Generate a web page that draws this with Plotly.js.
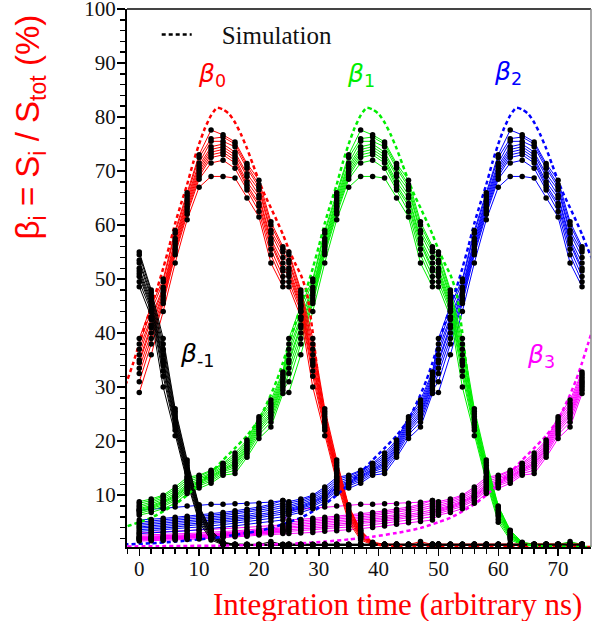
<!DOCTYPE html>
<html><head><meta charset="utf-8">
<script src="https://cdn.plot.ly/plotly-3.0.1.min.js"></script>
<style>html,body{margin:0;padding:0;background:#fff}#chart{width:593px;height:621px}</style>
</head><body><div id="chart"></div>
<script>
// Sampling: within each 25 ns bunch period the integration time is scanned at these offsets
const sampleOffsetsNs = [0,2,4,6,8,10,12,14,16,18,20,22,24];
const bunchPeriodNs = 25;
const periodIndex = [0,1,2]; // 0-24, 25-49, 50-74 ns

// Fraction (%) of signal from a bunch, per channel (10 channels), by position of the
// integration window relative to that bunch (3 periods before ... 3 periods after)
const pre3 = [
 [1.5,1.55,1.6,1.7,1.8,1.9,2.0,2.1,2.3,2.4,2.6,2.7,2.9],
 [1.7,1.75,1.8,1.9,2.0,2.1,2.2,2.3,2.5,2.6,2.8,2.9,3.1],
 [1.8,1.85,1.9,2.0,2.1,2.2,2.3,2.45,2.6,2.75,2.9,3.05,3.25],
 [1.9,1.95,2.0,2.1,2.2,2.3,2.4,2.55,2.7,2.85,3.0,3.15,3.35],
 [2.0,2.05,2.1,2.2,2.3,2.4,2.5,2.65,2.8,2.95,3.1,3.25,3.45],
 [2.1,2.15,2.2,2.3,2.4,2.5,2.6,2.75,2.9,3.05,3.2,3.4,3.6],
 [2.2,2.25,2.3,2.4,2.5,2.6,2.7,2.85,3.0,3.15,3.35,3.55,3.75],
 [2.35,2.4,2.45,2.55,2.65,2.75,2.85,3.0,3.15,3.3,3.5,3.7,3.95],
 [2.6,2.65,2.7,2.8,2.9,3.0,3.1,3.25,3.4,3.55,3.75,3.95,4.2],
 [3.0,3.1,3.2,3.3,3.4,3.5,3.6,3.75,3.9,4.05,4.2,4.35,4.5]
];
const pre2 = [
 [2.9,3.0,3.1,3.3,3.4,3.6,3.8,4.0,4.3,4.6,4.9,5.1,5.4],
 [3.3,3.4,3.6,3.8,3.9,4.1,4.3,4.5,4.8,5.1,5.4,5.7,6.0],
 [3.6,3.7,3.9,4.1,4.3,4.5,4.7,4.9,5.2,5.5,5.8,6.1,6.5],
 [3.9,4.0,4.2,4.4,4.6,4.8,5.0,5.2,5.5,5.8,6.1,6.5,6.9],
 [4.1,4.3,4.5,4.7,4.9,5.1,5.3,5.5,5.8,6.1,6.4,6.8,7.3],
 [4.4,4.6,4.8,5.0,5.2,5.4,5.6,5.8,6.1,6.4,6.8,7.2,7.7],
 [4.7,4.9,5.1,5.3,5.5,5.7,5.9,6.2,6.5,6.8,7.2,7.6,8.1],
 [5.0,5.2,5.4,5.6,5.8,6.0,6.2,6.5,6.8,7.1,7.5,8.0,8.5],
 [5.4,5.5,5.7,5.9,6.1,6.3,6.5,6.8,7.1,7.4,7.8,8.3,9.0],
 [7.2,7.4,7.6,7.8,8.0,8.2,8.3,8.3,8.4,8.4,8.5,8.7,9.0]
];
const pre1 = [
 [6.3,6.8,7.5,8.5,10.3,11.3,12.2,13.7,14.0,17.0,20.5,22.6,28.8],
 [6.6,7.2,7.9,9.0,10.7,11.7,12.6,14.0,14.6,17.5,21.2,23.5,29.4],
 [6.9,7.5,8.2,9.3,11.0,12.0,12.9,14.3,15.1,17.9,21.7,24.2,29.9],
 [7.1,7.7,8.5,9.6,11.3,12.2,13.2,14.5,15.5,18.3,22.1,24.7,30.3],
 [7.3,7.9,8.7,9.8,11.5,12.4,13.4,14.7,15.8,18.6,22.5,25.1,30.7],
 [7.5,8.1,8.9,10.0,11.8,12.6,13.6,14.9,16.1,18.9,22.9,25.5,31.1],
 [7.8,8.4,9.2,10.3,12.1,12.9,13.9,15.1,16.5,19.2,23.3,26.0,31.5],
 [8.1,8.7,9.5,10.7,12.5,13.2,14.1,15.4,16.9,19.5,23.7,26.5,31.9],
 [8.5,9.0,9.8,11.1,12.9,13.5,14.4,15.7,17.3,19.9,24.1,27.0,32.4],
 [8.8,9.3,10.0,11.5,13.3,13.7,14.6,15.9,17.8,20.2,24.5,27.6,32.8]
];
const inTime = [
 [29,36,44,53,61,67,69,69,68.7,65,61.5,53,48.6],
 [31,38,45.5,54.5,62,68.5,71.5,72,70.5,66.5,62.5,54.5,49.5],
 [32.5,39,46,55,62.5,69,72.5,73,71.5,67,63.5,55.5,50.5],
 [33.5,40,46.5,55.5,63,69.5,73,73.5,72,67.5,64,56.5,51.5],
 [34.5,41,47,56,63.5,70,73.5,74,72.5,68,65,57,52],
 [35,41.5,47.5,56.5,64,70.5,74,74.5,73,69,65.5,57.5,53],
 [36,42.5,48,57,64.5,71,74.5,75,73.5,69.5,66.5,58.5,54],
 [37,43,48.5,57.5,65,71.5,75.5,75.5,74.5,70.5,67,59,55],
 [38,44,49.5,58.5,65.5,72.5,76,76.3,75,71,67.5,60,55.5],
 [39,45,50,59,66,73,77.6,76.7,75.4,71.4,68.3,60.6,56]
];
const post1 = [
 [48.6,43,30,21,12.5,5,1.7,0.8,0.7,0.7,0.7,0.7,0.7],
 [49.5,44,32,22,13,5.5,2,0.9,0.75,0.7,0.75,0.7,0.7],
 [50.5,44.5,33,22.5,13.5,6,2.2,0.9,0.8,0.75,0.7,0.75,0.7],
 [51,45,34,23,14,6.3,2.4,1.0,0.8,0.8,0.75,0.8,0.75],
 [51.5,45.5,34.5,23.5,14.3,6.6,2.6,1.0,0.8,0.75,0.8,0.8,0.8],
 [52,46,35,24,14.6,6.9,2.8,1.0,0.85,0.8,0.8,0.85,0.8],
 [53,46.5,36,24.5,15,7.2,3.0,1.1,0.85,0.85,0.8,0.8,0.85],
 [53.5,47,37,25,15.5,7.5,3.2,1.1,0.9,0.85,0.85,0.9,0.8],
 [54.5,47.5,38,25.5,16,7.8,3.4,1.2,0.9,0.9,0.85,1.4,0.85],
 [55,48,39,26,16.5,8,3.5,1.3,0.9,0.9,0.9,0.9,0.9]
];
const post2 = [
 [0.7,0.7,0.75,0.7,0.7,0.7,0.75,0.7,0.7,0.7,0.7,0.75,0.7],
 [0.75,0.7,0.7,0.75,0.75,0.7,0.7,0.75,0.7,0.75,0.7,0.7,0.75],
 [0.75,0.75,0.8,0.75,0.7,0.75,0.8,0.75,0.75,0.7,0.75,0.8,0.75],
 [0.8,0.75,0.75,0.8,0.8,0.75,0.75,0.8,0.8,0.75,0.8,0.75,0.8],
 [0.8,0.8,0.8,0.75,0.8,0.8,0.8,0.75,0.8,0.8,0.75,0.8,0.8],
 [0.85,0.8,0.8,0.8,0.85,0.8,0.85,0.8,0.8,0.85,0.8,0.8,0.85],
 [0.85,0.85,0.8,0.85,0.8,0.85,0.8,0.85,0.85,0.8,0.85,0.85,0.8],
 [0.9,0.85,0.85,0.85,0.9,0.85,0.85,0.9,0.85,0.85,0.9,0.85,0.85],
 [0.9,0.9,0.85,0.9,0.85,0.9,0.9,0.85,0.9,0.9,0.85,0.9,0.9],
 [0.9,0.9,0.9,0.95,0.9,0.9,0.95,0.9,0.9,0.95,0.9,0.9,0.95]
];
const post3 = [
 [0.7,0.7,0.7,0.75,0.7,0.7,0.7,0.75,0.7,0.7,0.75,0.7,0.7],
 [0.75,0.7,0.75,0.7,0.75,0.7,0.75,0.7,0.75,0.7,0.7,0.75,0.7],
 [0.75,0.8,0.75,0.75,0.8,0.75,0.75,0.8,0.75,0.75,0.8,0.75,0.75],
 [0.8,0.75,0.8,0.8,0.75,0.8,0.8,0.75,0.8,0.8,0.75,0.8,0.8],
 [0.8,0.8,0.75,0.8,0.8,0.8,0.75,0.8,0.8,0.75,0.8,0.8,0.8],
 [0.85,0.8,0.85,0.8,0.8,0.85,0.8,0.8,0.85,0.8,0.85,0.8,0.8],
 [0.85,0.85,0.85,0.8,0.85,0.85,0.85,0.8,0.85,0.85,0.8,0.85,0.85],
 [0.9,0.85,0.85,0.9,0.85,0.85,0.9,0.85,0.85,0.9,0.85,0.9,0.85],
 [0.9,0.9,0.9,0.85,0.9,0.9,0.85,0.9,0.9,0.85,0.9,0.9,0.9],
 [0.95,0.9,0.9,0.9,0.95,0.9,0.9,0.95,0.9,0.9,0.95,0.9,0.9]
];
const relativeBlocks = [pre3, pre2, pre1, inTime, post1, post2, post3]; // index = periods relative to bunch + 3

// Simulation: fraction (%) vs integration-window offset from the bunch (ns)
const simOffsetNs = [-77,-72,-67,-62,-57,-52,-48,-44,-40,-36,-32,-28,-25,-23,-21,-19,-17,-15,-13,-11,-9,-7,-5,-4,-3,-2,-1,0,
 1,2,3,4,5,6,7,8,9,10,11,12,13,14,15,16,17,18,19,20,21,22,23,24,25,26,27,28,29,30,31,32,33,34,35,36,37,38,39,40,42,45,50,55,60,65,70,76];
const simPercent = [0.5,0.55,0.6,0.65,0.75,0.9,1.1,1.4,1.8,2.3,3.0,3.9,5.0,5.8,7.0,8.3,10.0,12.0,14.2,16.5,18.7,21.0,24.0,26.2,28.6,31.3,34.5,38.0,
 41.5,45,48.3,52,56,60.3,64,67.5,71.5,75,78,80.3,81.7,81.4,80.6,79,76.8,74.2,71.2,68.2,65.5,63.2,60.8,58.3,55.5,53,50.8,47.5,40,31,
 24,19,15,11,7.8,5.3,3.3,2,1.2,0.8,0.55,0.45,0.4,0.4,0.4,0.4,0.4,0.4];

// Families: beta_k = signal from bunch k (k = -1 ... 3)
const bunchIndex = [-1, 0, 1, 2, 3];
const familyLabels = ['β<sub>-1</sub>','β<sub>0</sub>','β<sub>1</sub>','β<sub>2</sub>','β<sub>3</sub>'];
const labelTime = [9.7, 12.1, 37.0, 61.7, 67.2];
const labelValue = [35.9, 87.8, 87.8, 88.1, 35.7];
const familyHasSim = [false, true, true, true, true];
const yTickValues = [10,20,30,40,50,60,70,80,90,100];
const yTickLabels = ['10','20','30','40','50','60','70','80','90','100'];

// styles
const familyColors = ['#000000','#ff0000','#00ee00','#0000ff','#ff00ff'];
const drawOrder = [4,3,2,1,0];

function buildCurve(k, ch) {
  const xs = [], ys = [];
  for (let r = -3; r <= 3; r++) {
    const p = r + k;
    if (!periodIndex.includes(p)) continue;
    const blk = relativeBlocks[r + 3][ch];
    for (let j = 0; j < sampleOffsetsNs.length; j++) {
      xs.push(p * bunchPeriodNs + sampleOffsetsNs[j]);
      ys.push(blk[j]);
    }
  }
  return {xs, ys};
}

const traces = [];
const markerTraces = [];
drawOrder.forEach(fi => {
  const k = bunchIndex[fi];
  const mx = [], my = [];
  for (let ch = 0; ch < inTime.length; ch++) {
    const c = buildCurve(k, ch);
    traces.push({x: c.xs, y: c.ys, type: 'scatter', mode: 'lines',
      line: {color: familyColors[fi], width: 1}, showlegend: false, hoverinfo: 'skip'});
    mx.push(...c.xs); my.push(...c.ys);
  }
  markerTraces.push({x: mx, y: my, type: 'scatter', mode: 'markers',
    marker: {color: '#000', size: 5.5, line: {width: 0}}, showlegend: false, hoverinfo: 'skip'});
});
const simTraces = [];
bunchIndex.forEach((k, fi) => {
  if (!familyHasSim[fi]) return;
  simTraces.push({x: simOffsetNs.map(t => t + k * bunchPeriodNs), y: simPercent, type: 'scatter', mode: 'lines',
    line: {color: familyColors[fi], width: 2.5, dash: '4px,3px', shape: 'spline', smoothing: 0.6},
    showlegend: false, hoverinfo: 'skip'});
});
const legendTrace = {x: [null], y: [null], type: 'scatter', mode: 'lines', name: '\u00a0\u00a0\u00a0\u00a0Simulation',
  line: {color: '#000', width: 2.5, dash: '4px,3px'}, showlegend: true};

const annotations = familyLabels.map((t, i) => ({
  x: labelTime[i], y: labelValue[i], xref: 'x', yref: 'y', xanchor: 'center', yanchor: 'middle',
  text: '<i>β</i>' + t.slice(1),
  showarrow: false, font: {family: 'DejaVu Sans', size: 25, color: familyColors[i]}
}));
annotations.push({
  xref: 'paper', yref: 'paper', x: 0.582, y: -0.106, xanchor: 'center', yanchor: 'middle', showarrow: false,
  text: 'Integration time (arbitrary ns)',
  font: {family: 'Liberation Serif', size: 31, color: '#ff0000'}
});
annotations.push({
  xref: 'paper', yref: 'paper', x: -0.209, y: 0.78, xanchor: 'center', yanchor: 'middle', showarrow: false, textangle: -90,
  text: 'β<sub>i</sub> = S<sub>i</sub> / S<sub>tot</sub> (%)',
  font: {family: 'Liberation Sans', size: 33, color: '#ff0000'}
});

const tickFont = {family: 'Liberation Serif', size: 21, color: '#111'};
const layout = {
  width: 593, height: 621,
  margin: {l: 127, r: 2, t: 9, b: 74},
  paper_bgcolor: '#fff', plot_bgcolor: '#fff',
  showlegend: true,
  legend: {x: 0.064, y: 0.952, xanchor: 'left', yanchor: 'middle', bgcolor: 'rgba(0,0,0,0)',
    font: {family: 'Liberation Serif', size: 25, color: '#111'}},
  xaxis: {range: [-2.05, 75.5], tickmode: 'linear', tick0: 0, dtick: 10, ticks: 'outside', ticklen: 7,
    tickwidth: 1.5, tickcolor: '#000', showline: true, linecolor: '#000', linewidth: 2,
    showgrid: false, zeroline: false, tickfont: tickFont, ticklabelstandoff: -5,
    minor: {tickmode: 'linear', tick0: 0, dtick: 2, ticks: 'outside', ticklen: 5, tickwidth: 1.5, tickcolor: '#000', showgrid: false}},
  yaxis: {range: [0.4, 100], tickmode: 'array', tickvals: yTickValues, ticktext: yTickLabels, ticks: 'outside', ticklen: 8,
    tickwidth: 1.5, tickcolor: '#000', showline: true, linecolor: '#000', linewidth: 2,
    showgrid: false, zeroline: false, tickfont: tickFont, ticklabelstandoff: -3, ticklabeloverflow: 'allow',
    minor: {tickmode: 'linear', tick0: 0, dtick: 2, ticks: 'outside', ticklen: 5, tickwidth: 1.5, tickcolor: '#000', showgrid: false}},
  shapes: [
    {type: 'line', xref: 'paper', yref: 'paper', x0: 0, x1: 1, y0: 1, y1: 1, line: {color: '#444', width: 2}},
    {type: 'line', xref: 'paper', yref: 'paper', x0: 1, x1: 1, y0: 0, y1: 1, line: {color: '#888', width: 1.5}}
  ],
  annotations: annotations
};

Plotly.newPlot('chart', [...traces, ...simTraces, ...markerTraces, legendTrace], layout, {displayModeBar: false, staticPlot: true});
</script>
</body></html>
